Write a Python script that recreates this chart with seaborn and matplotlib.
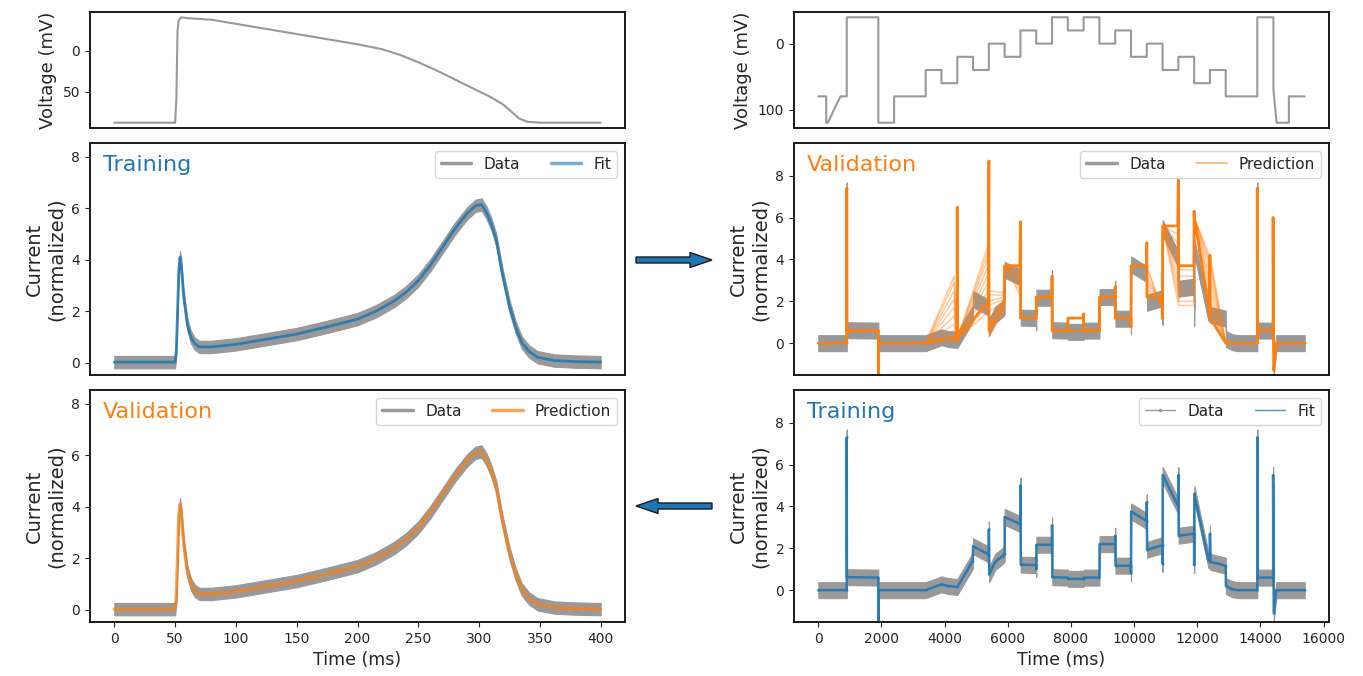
import numpy as np
import pandas as pd
import matplotlib

matplotlib.use('Agg')

import matplotlib.pyplot as plt
import seaborn as sns
from matplotlib.lines import Line2D
from matplotlib.patches import FancyArrow

sns.set_style('ticks')
plt.rcParams['font.family'] = ['DejaVu Sans']

BLUE = '#1f77b4'
ORANGE = '#ff7f0e'
GREY = '#999999'

#Action potential clamp (left column)
ap_v_t = [0, 50, 51, 52, 53, 55, 60, 80, 100, 120, 140, 160, 180, 200, 220, 235,
          250, 265, 280, 295, 310, 320, 327, 333, 340, 350, 400]
ap_v = [-88, -88, -60, 25, 37, 41, 40, 38, 33, 28, 23, 18, 13, 8, 2, -5,
        -14, -24, -35, -46, -57, -66, -75, -83, -87, -88, -88]

ap_t = [0, 50, 51, 52, 53, 54, 55, 57, 60, 63, 66, 70, 80, 100, 120, 150, 175, 200, 215, 230,
        240, 250, 260, 270, 280, 290, 297, 302, 306, 310, 314, 319, 325, 330, 335, 341, 348, 362, 380, 400]
ap_i = [0.03, 0.03, 0.5, 2.0, 3.6, 4.1, 3.8, 2.6, 1.5, 1.0, 0.75, 0.62, 0.62, 0.72, 0.88, 1.12, 1.4, 1.7, 2.0, 2.4,
        2.75, 3.2, 3.8, 4.5, 5.2, 5.8, 6.1, 6.15, 5.85, 5.4, 4.8, 3.5, 2.2, 1.4, 0.8, 0.45, 0.22, 0.09, 0.05, 0.03]

#Staircase protocol (right column): segment start, start / end voltage
stair_t0 = [0, 250, 300, 700, 900, 1900, 2400, 3400, 3900, 4400, 4900, 5400, 5900, 6400, 6900, 7400,
            7900, 8400, 8900, 9400, 9900, 10400, 10900, 11400, 11900, 12400, 12900, 13900, 14410, 14510, 14900]
stair_v0 = [-80, -120, -120, -80, 40, -120, -80, -40, -60, -20, -40, 0, -20, 20, 0, 40,
            20, 40, 0, 20, -20, 0, -40, -20, -60, -40, -80, 40, -70, -120, -80]
stair_v1 = [-80, -120, -80, -80, 40, -120, -80, -40, -60, -20, -40, 0, -20, 20, 0, 40,
            20, 40, 0, 20, -20, 0, -40, -20, -60, -40, -80, 40, -120, -120, -80]
stair_end = 15400

#Staircase fit (time ms, current)
fit_pts = [
    (0, 0), (900, 0), (900, 7.3), (905, 0.62), (1900, 0.6), (1900, -2.0), (1905, 0),
    (3400, 0), (3900, 0.28), (4100, 0.2), (4400, 0.15), (4890, 1.4), (4900, 2.1),
    (5400, 1.7), (5400, 2.9), (5410, 0.75), (5600, 1.35), (5850, 1.65), (5900, 1.75),
    (5900, 3.5), (6400, 3.15), (6400, 5.0), (6410, 1.22), (6900, 1.2), (6900, 1.0),
    (6905, 2.17), (7400, 2.17), (7400, 3.1), (7410, 0.62), (7900, 0.6), (7905, 0.54),
    (8400, 0.54), (8405, 0.6), (8900, 0.6), (8905, 2.2), (9400, 2.2), (9400, 2.6),
    (9410, 1.17), (9900, 1.17), (9900, 0.8), (9905, 3.76), (10400, 3.3), (10400, 4.2),
    (10410, 1.93), (10900, 2.15), (10900, 1.25), (10905, 5.5), (11400, 4.0), (11400, 5.5),
    (11410, 2.6), (11900, 2.7), (11900, 1.2), (11905, 4.6), (12350, 1.45), (12400, 1.4),
    (12400, 2.7), (12410, 1.35), (12900, 1.17), (12905, 0.2), (13100, 0.05), (13300, 0),
    (13900, 0), (13900, 7.3), (13905, 0.6), (14400, 0.6), (14400, 5.5), (14420, -1.1),
    (14500, 0), (15400, 0)]

#Staircase prediction from the AP-trained model
pred_pts = [
    (0, 0), (900, 0), (900, 7.4), (905, 0.6), (1900, 0.6), (1900, -2.0), (1905, 0),
    (3400, 0), (4300, 0.3), (4395, 0.1), (4400, 6.5), (4405, 0.2), (5380, 2.0),
    (5400, 8.7), (5405, 0.6), (5880, 2.0), (5900, 3.7), (6380, 3.7), (6400, 5.8),
    (6405, 1.2), (6900, 1.2), (6905, 2.2), (7395, 2.2), (7400, 3.2), (7405, 0.6),
    (7900, 0.6), (7905, 1.2), (8390, 1.2), (8400, 1.4), (8405, 0.6), (8900, 0.6),
    (8905, 2.2), (9395, 2.2), (9400, 2.7), (9405, 1.2), (9895, 1.2), (9900, 0.8),
    (9905, 3.7), (10395, 3.7), (10400, 4.8), (10405, 2.2), (10880, 2.2), (10895, 1.2),
    (10905, 5.6), (11380, 5.6), (11400, 7.8), (11405, 3.7), (11890, 3.7), (11900, 6.3),
    (11905, 6.0), (12380, 1.5), (12400, 4.2), (12405, 1.2), (12900, 0), (13900, 0),
    (13900, 7.4), (13905, 0.6), (14400, 0.6), (14400, 6.0), (14420, -1.3), (14500, 0),
    (15400, 0)]

#Posterior samples: values that differ from the main prediction
ens_t = [4300, 5380, 5405, 5880, 6380, 7905, 8390, 10405, 10880, 11380, 11405, 11890, 12380, 12405]
ens_vals = [
    [0.0, 0.3, 0.6, 0.9, 1.3, 1.7, 2.1, 2.5, 2.9, 3.2],
    [1.5, 1.8, 2.1, 2.5, 2.9, 3.3, 3.7, 4.1, 4.4, 4.7],
    [0.3, 0.5, 0.7, 0.9, 1.2, 1.5, 1.8, 2.0, 2.3, 2.5],
    [1.5, 1.6, 1.7, 1.8, 1.9, 2.0, 2.1, 2.2, 2.3, 2.4],
    [2.3, 2.5, 2.7, 2.9, 3.0, 3.2, 3.3, 3.5, 3.6, 3.7],
    [0.6, 1.2, 0.6, 1.2, 0.6, 1.2, 0.6, 1.2, 0.6, 1.2],
    [0.6, 1.2, 0.6, 1.2, 0.6, 1.2, 0.6, 1.2, 0.6, 1.2],
    [3.7, 3.5, 3.2, 3.0, 2.8, 2.6, 2.4, 2.3, 2.2, 2.2],
    [1.6, 1.7, 1.8, 1.9, 2.0, 2.0, 2.1, 2.1, 2.2, 2.2],
    [2.0, 2.4, 2.8, 3.2, 3.6, 4.0, 4.4, 4.8, 5.2, 5.6],
    [1.8, 2.0, 2.3, 2.6, 2.9, 3.2, 3.5, 3.7, 3.7, 3.7],
    [1.8, 2.0, 2.3, 2.6, 2.9, 3.2, 3.5, 3.7, 3.7, 3.7],
    [1.2, 1.5, 1.8, 2.2, 2.6, 3.0, 3.4, 3.8, 4.0, 4.2],
    [1.2, 1.4, 1.7, 2.0, 2.4, 2.8, 3.2, 3.6, 3.9, 4.2]]

NOISE_AP = 0.24     # half width of the recorded noise band
NOISE_STAIR = 0.38

#Build arrays
prot_t, prot_v = [], []
ends = stair_t0[1:] + [stair_end]
for t0, t1, v0, v1 in zip(stair_t0, ends, stair_v0, stair_v1):
    prot_t += [t0, t1]
    prot_v += [v0, v1]

fit_t, fit_i = map(np.array, zip(*fit_pts))
pred_t, pred_i = map(np.array, zip(*pred_pts))
ap_t = np.array(ap_t)
ap_i = np.array(ap_i)

rows = []
for k in range(len(ens_vals[0])):
    member = pred_i.copy()
    for j, t in enumerate(ens_t):
        member[np.where(pred_t == t)[0][0]] = ens_vals[j][k]
    rows.append(pd.DataFrame({'t': pred_t, 'i': member, 'member': k}))
ens = pd.concat(rows, ignore_index=True)


def line(ax, x, y, **kw):
    sns.lineplot(x=x, y=y, estimator=None, sort=False, ax=ax, legend=False, **kw)


#Layout
fig = plt.figure(figsize=(13.63, 6.76), dpi=100)
W, H = 1363, 676
colx = [90 / W, 794 / W]
aw = 535 / W
ypos = [(1 - 128 / H, 116 / H), (1 - 375 / H, 232 / H), (1 - 622 / H, 232 / H)]
axes = [[fig.add_axes([cx, y0, aw, h]) for (y0, h) in ypos] for cx in colx]
(lv, ltr, lva), (rv, rva, rtr) = axes

LXL = (-20, 420)
RXL = (-770, 16170)

# voltage panels
line(lv, ap_v_t, ap_v, color=GREY, lw=1.5)
lv.set_xlim(LXL)
lv.set_ylim(-94.5, 47.5)
lv.set_yticks([0, -50], ['0', '50'])

line(rv, prot_t, prot_v, color=GREY, lw=1.5)
rv.set_xlim(RXL)
rv.set_ylim(-128, 48)
rv.set_yticks([0, -100], ['0', '100'])

for ax in (lv, rv):
    ax.set_xticks([])
    ax.set_ylabel('Voltage (mV)', fontsize=13)

# left current panels
for ax in (ltr, lva):
    ax.fill_between(ap_t, ap_i - NOISE_AP, ap_i + NOISE_AP, color=GREY, lw=0.8)
line(ltr, ap_t, ap_i, color=BLUE, lw=2, alpha=0.85)
line(lva, ap_t, ap_i, color=ORANGE, lw=2.4, alpha=0.7)

# right current panels
for ax in (rva, rtr):
    ax.fill_between(fit_t, fit_i - NOISE_STAIR, fit_i + NOISE_STAIR, color=GREY, lw=0.8)
sns.lineplot(data=ens, x='t', y='i', units='member', estimator=None, sort=False,
             color=ORANGE, alpha=0.4, lw=1.1, ax=rva, legend=False)
line(rva, pred_t, pred_i, color=ORANGE, lw=2, alpha=0.95, marker='.', markersize=3, markeredgewidth=0)
line(rtr, fit_t, fit_i, color=BLUE, lw=1.8, alpha=0.9, marker='.', markersize=3, markeredgewidth=0)

for ax in (ltr, lva):
    ax.set_xlim(LXL)
    ax.set_ylim(-0.47, 8.54)
for ax in (rva, rtr):
    ax.set_xlim(RXL)
    ax.set_ylim(-1.52, 9.56)
for ax in (ltr, lva, rva, rtr):
    ax.set_yticks([0, 2, 4, 6, 8])
    ax.set_ylabel('Current\n(normalized)', fontsize=14)
for ax in (ltr, rva):
    ax.set_xticks([])
    ax.set_xlabel('')
lva.set_xticks(range(0, 401, 50))
rtr.set_xticks(range(0, 16001, 2000))
for ax in (lva, rtr):
    ax.set_xlabel('Time (ms)', fontsize=12.5)

for row in axes:
    for ax in row:
        ax.tick_params(labelsize=10)
        for s in ax.spines.values():
            s.set_linewidth(1.4)
            s.set_color('#1a1a1a')

# titles and legends
titles = [(ltr, 'Training', BLUE), (lva, 'Validation', ORANGE),
          (rva, 'Validation', ORANGE), (rtr, 'Training', BLUE)]
for ax, txt, c in titles:
    ax.text(0.024, 0.905, txt, color=c, fontsize=16, va='center', transform=ax.transAxes)

data_thick = Line2D([], [], color=GREY, lw=2.5)
ltr.legend([data_thick, Line2D([], [], color=BLUE, lw=2.5, alpha=0.6)], ['Data', 'Fit'],
           loc='upper right', ncol=2, fontsize=11)
lva.legend([data_thick, Line2D([], [], color=ORANGE, lw=2.5, alpha=0.7)], ['Data', 'Prediction'],
           loc='upper right', ncol=2, fontsize=11)
rva.legend([data_thick, Line2D([], [], color=ORANGE, lw=1.2, alpha=0.6)], ['Data', 'Prediction'],
           loc='upper right', ncol=2, fontsize=11)
rtr.legend([Line2D([], [], color=GREY, lw=1, marker='.', markersize=3),
            Line2D([], [], color=BLUE, lw=1, alpha=0.8)], ['Data', 'Fit'],
           loc='upper right', ncol=2, fontsize=11)

# arrows between columns
for x0, x1, y in [(636, 712, 260), (712, 636, 506)]:
    fig.add_artist(FancyArrow(x0 / W, 1 - y / H, (x1 - x0) / W, 0, width=6 / H,
                              head_width=15 / H, head_length=22 / W, length_includes_head=True,
                              transform=fig.transFigure, facecolor=BLUE, edgecolor='#1a1a1a', lw=1))

fig.savefig('out.png', dpi=100)
